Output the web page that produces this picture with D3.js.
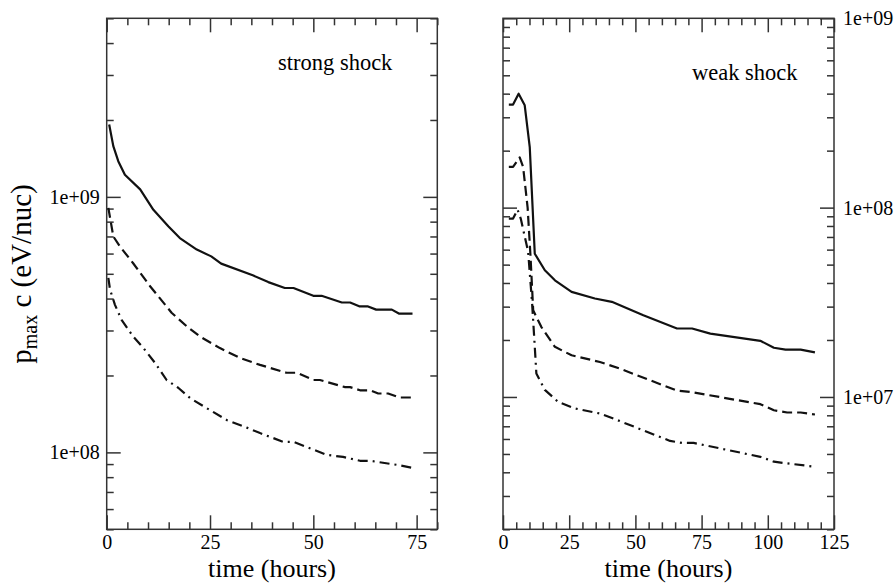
<!DOCTYPE html>
<html><head><meta charset="utf-8">
<script src="https://cdn.jsdelivr.net/npm/d3@7"></script>
<style>
body{margin:0;background:#fff}
svg{display:block}
</style>
</head><body>
<svg id="chart" width="894" height="583"></svg>
<script>
// ---- data: strong shock panel ----
const strongSolidT = [0.6,1.6,2.8,4.4,8.1,11.3,14.9,17.7,21.8,25.3,27.7,35.5,39.1,43.1,45.2,50,52,56.9,58.9,61.1,63.1,65.2,69,70.8,74];
const strongSolidV = [1.92e9,1.58e9,1.38e9,1.22e9,1.07e9,8.9e8,7.68e8,6.9e8,6.22e8,5.85e8,5.48e8,4.92e8,4.64e8,4.4e8,4.4e8,4.1e8,4.1e8,3.86e8,3.86e8,3.73e8,3.73e8,3.62e8,3.62e8,3.49e8,3.49e8];
const strongDashT = [0.4,1.6,3.2,6.4,10.5,12.5,15.7,19.4,22.6,27.4,32.3,37.1,43.5,46,50,51.6,57.7,58.9,61.3,63.7,65.7,68.1,70.8,74];
const strongDashV = [9.06e8,7.0e8,6.4e8,5.5e8,4.47e8,4.08e8,3.52e8,3.11e8,2.84e8,2.56e8,2.34e8,2.2e8,2.05e8,2.05e8,1.92e8,1.92e8,1.80e8,1.80e8,1.75e8,1.75e8,1.70e8,1.70e8,1.64e8,1.64e8];
const strongDotT = [0.4,0.8,2,3.6,6.4,8.9,11.7,14.5,17.3,20.2,24.2,29,33.9,37.1,42.7,45.2,53.2,57.2,61.3,63.7,70.2,74];
const strongDotV = [4.82e8,4.34e8,3.78e8,3.3e8,2.84e8,2.56e8,2.24e8,1.92e8,1.79e8,1.63e8,1.49e8,1.34e8,1.25e8,1.19e8,1.10e8,1.10e8,9.78e7,9.6e7,9.27e7,9.27e7,8.94e7,8.7e7];

// ---- data: weak shock panel ----
const weakSolidT = [2.2,3.8,5.9,8.2,10.1,12,15.8,19.6,25.9,34.7,41.1,53,65.7,71.4,78.3,97.2,102.3,106.7,112.4,117.8];
const weakSolidV = [3.5e8,3.5e8,4.0e8,3.47e8,2.09e8,5.71e7,4.67e7,4.13e7,3.59e7,3.31e7,3.18e7,2.70e7,2.30e7,2.30e7,2.16e7,1.98e7,1.82e7,1.78e7,1.78e7,1.72e7];
const weakDashT = [2.2,3.8,6.3,7.6,9.3,10.4,11.4,14.5,19.6,25.9,36.6,44.2,65.7,71.4,97.2,102.3,107.3,112.4,117.8];
const weakDashV = [1.64e8,1.64e8,1.84e8,1.64e8,1.0e8,5.5e7,2.87e7,2.34e7,1.84e7,1.66e7,1.53e7,1.41e7,1.08e7,1.06e7,9.16e6,8.51e6,8.28e6,8.28e6,8.08e6];
const weakDotT = [2.2,3.8,5.5,6.7,9.5,11,12,12.6,15.8,20.8,27.2,36.6,41.7,63.1,67.6,72,97.2,102.3,107.3,117.8];
const weakDotV = [8.75e7,8.75e7,9.76e7,8.75e7,5.84e7,3.11e7,1.84e7,1.33e7,1.09e7,9.42e6,8.69e6,8.18e6,7.69e6,5.86e6,5.72e6,5.72e6,4.83e6,4.55e6,4.46e6,4.28e6];

// ---- axes ----
const strongXTicks = [0,25,50,75];
const strongXLabels = ["0","25","50","75"];
const weakXTicks = [0,25,50,75,100,125];
const weakXLabels = ["0","25","50","75","100","125"];
const strongYTicks = [1e8,1e9];
const strongYLabels = ["1e+08","1e+09"];
const weakYTicks = [1e7,1e8,1e9];
const weakYLabels = ["1e+07","1e+08","1e+09"];
const strongXDomain = [0,80];
const weakXDomain = [0,125];
const strongYDomain = [5e7,5e9];
const weakYDomain = [2e6,1e9];
const xTitle = "time (hours)";
const panelLabels = ["strong shock","weak shock"];

// pick an installed serif font
function pickFont(cands){
  const ctx = document.createElement("canvas").getContext("2d");
  const sample = "time (hours) 1e+09 strong shock";
  for(const f of cands){
    for(const base of ["monospace","sans-serif"]){
      ctx.font = `40px ${base}`; const w0 = ctx.measureText(sample).width;
      ctx.font = `40px "${f}", ${base}`; const w1 = ctx.measureText(sample).width;
      if(Math.abs(w1-w0)>0.5) return `"${f}", serif`;
    }
  }
  return "serif";
}
const FONT = pickFont(["Liberation Serif","Times New Roman","Tinos","Nimbus Roman","FreeSerif","DejaVu Serif","Noto Serif"]);

const svg = d3.select("#chart");
const frameColor = "#333";

function logMinors(dom){
  const out=[];
  for(let e=Math.floor(Math.log10(dom[0])); e<=Math.ceil(Math.log10(dom[1])); e++){
    for(let m=2;m<=9;m++){const v=m*Math.pow(10,e); if(v>=dom[0]*0.999 && v<=dom[1]*1.001) out.push(v);}
  }
  return out;
}

function panel(o){
  const x = d3.scaleLinear().domain(o.xDomain).range([o.x0,o.x1]);
  const y = d3.scaleLog().domain(o.yDomain).range([o.y1,o.y0]);
  const g = svg.append("g");
  const xMinor = d3.range(o.xDomain[0], o.xDomain[1]+0.001, 5).filter(v=>!o.xTicks.includes(v));
  const yMinor = logMinors(o.yDomain);

  function style(sel){
    sel.select(".domain").remove();
    sel.selectAll("line").attr("stroke",frameColor).attr("stroke-width",1.5);
    sel.selectAll("text").style("font-family",FONT).style("font-size","20px").attr("fill","#000");
  }
  g.append("g").attr("transform",`translate(0,${o.y1})`)
    .call(d3.axisBottom(x).tickValues(o.xTicks).tickSize(-14).tickPadding(5.5).tickFormat((d,i)=>o.xLabels[i])).call(style);
  g.append("g").attr("transform",`translate(0,${o.y1})`)
    .call(d3.axisBottom(x).tickValues(xMinor).tickSize(-7).tickFormat("")).call(style);
  g.append("g").attr("transform",`translate(0,${o.y0})`)
    .call(d3.axisTop(x).tickValues(o.xTicks).tickSize(-14).tickFormat("")).call(style);
  g.append("g").attr("transform",`translate(0,${o.y0})`)
    .call(d3.axisTop(x).tickValues(xMinor).tickSize(-7).tickFormat("")).call(style);
  g.append("g").attr("transform",`translate(${o.x0},0)`)
    .call(d3.axisLeft(y).tickValues(o.yTicks).tickSize(-14).tickPadding(7).tickFormat((d,i)=>o.labelsLeft?o.yLabels[i]:"")).call(style);
  g.append("g").attr("transform",`translate(${o.x0},0)`)
    .call(d3.axisLeft(y).tickValues(yMinor).tickSize(-7).tickFormat("")).call(style);
  g.append("g").attr("transform",`translate(${o.x1},0)`)
    .call(d3.axisRight(y).tickValues(o.yTicks).tickSize(-14).tickPadding(9).tickFormat((d,i)=>o.labelsLeft?"":o.yLabels[i])).call(style);
  g.append("g").attr("transform",`translate(${o.x1},0)`)
    .call(d3.axisRight(y).tickValues(yMinor).tickSize(-7).tickFormat("")).call(style);

  g.append("rect").attr("x",o.x0).attr("y",o.y0).attr("width",o.x1-o.x0).attr("height",o.y1-o.y0)
    .attr("fill","none").attr("stroke",frameColor).attr("stroke-width",1.5);

  const line = d3.line().x(d=>x(d[0])).y(d=>y(d[1]));
  o.series.forEach(s=>{
    g.append("path").datum(d3.zip(s.t,s.v)).attr("d",line)
      .attr("fill","none").attr("stroke","#111").attr("stroke-width",2.2)
      .attr("stroke-linejoin","round")
      .attr("stroke-dasharray",s.dash);
  });

  g.append("text").attr("x",(o.x0+o.x1)/2).attr("y",577.2).attr("text-anchor","middle")
    .style("font-family",FONT).style("font-size","26px").text(xTitle);
  g.append("text").attr("x",o.lx).attr("y",o.ly)
    .style("font-family",FONT).style("font-size","22.5px").text(o.label);
}

panel({x0:106.7,x1:437.3,y0:18.3,y1:529.3,xDomain:strongXDomain,yDomain:strongYDomain,
  xTicks:strongXTicks,xLabels:strongXLabels,yTicks:strongYTicks,yLabels:strongYLabels,labelsLeft:true,
  label:panelLabels[0],lx:278,ly:70,
  series:[{t:strongSolidT,v:strongSolidV,dash:null},{t:strongDashT,v:strongDashV,dash:"10,5"},{t:strongDotT,v:strongDotV,dash:"10,5,2,5"}]});
panel({x0:503,x1:834,y0:18.3,y1:529.3,xDomain:weakXDomain,yDomain:weakYDomain,
  xTicks:weakXTicks,xLabels:weakXLabels,yTicks:weakYTicks,yLabels:weakYLabels,labelsLeft:false,
  label:panelLabels[1],lx:692,ly:80,
  series:[{t:weakSolidT,v:weakSolidV,dash:null},{t:weakDashT,v:weakDashV,dash:"10,5"},{t:weakDotT,v:weakDotV,dash:"10,5,2,5"}]});

const yt = svg.append("text").attr("transform","translate(31,274) rotate(-90)").attr("text-anchor","middle")
  .style("font-family",FONT).style("font-size","29px");
yt.append("tspan").text("p");
yt.append("tspan").style("font-size","20px").attr("dy",6).text("max");
yt.append("tspan").attr("dy",-6).text("\u00a0c (eV/nuc)");
</script>
</body></html>
